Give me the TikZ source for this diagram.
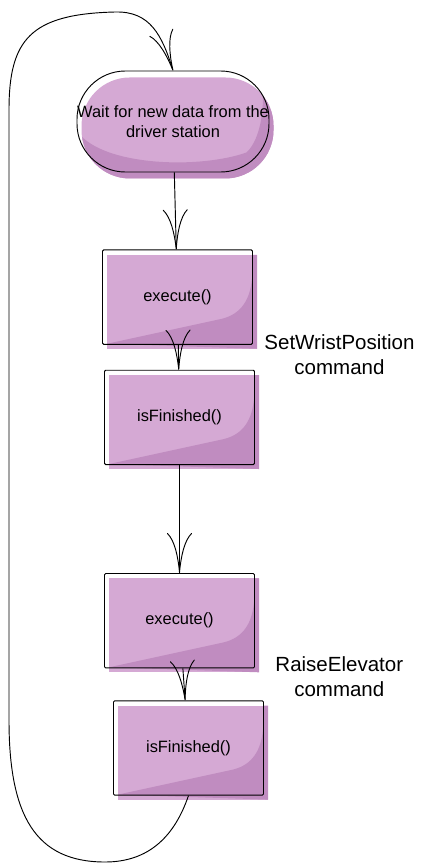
\documentclass[tikz,border=0pt]{standalone}
\usepackage{fontspec}
\setmainfont{Liberation Sans}
\usepackage{tikz}
\usetikzlibrary{arrows.meta,positioning,backgrounds}
\definecolor{cmdfill}{RGB}{213,169,212}
\definecolor{cmdshade}{RGB}{192,140,192}

\begin{document}
\begin{tikzpicture}[
    x=0.03cm, y=0.03cm,
    line width=0.8pt,
    cmdbox/.style={draw, rounded corners=1pt, inner sep=0pt,
        minimum width=4.5cm, minimum height=2.83cm,
        font=\fontsize{14}{16.5}\selectfont},
    waitbox/.style={draw, rounded corners=1.45cm, inner sep=0pt, align=center,
        minimum width=5.76cm, minimum height=3.03cm,
        font=\fontsize{14}{16.5}\selectfont},
    lbl/.style={align=center, inner sep=0pt, font=\fontsize{17.5}{21.5}\selectfont},
    arr/.style={-{Computer Modern Rightarrow[length=1.2cm, width=0.75cm]}, line width=0.8pt}
]
\useasboundingbox (0,0) rectangle (422,-863);

\node[waitbox] (wait) at (173,-121.5) {Wait for new data from the\\driver station};
\node[cmdbox, below=2.31cm of wait, xshift=0.135cm] (exec1) {execute()};
\node[cmdbox, below=0.75cm of exec1, xshift=0.06cm] (fin1) {isFinished()};
\node[cmdbox, below=3.24cm of fin1] (exec2) {execute()};
\node[cmdbox, below=0.96cm of exec2, xshift=0.27cm] (fin2) {isFinished()};

\node[lbl, anchor=west] (wristlbl) at (264,-355) {SetWristPosition\\command};
\node[lbl, anchor=west] (elevlbl) at (275,-677) {RaiseElevator\\command};

% sketchy fills, a little off the outlines
\begin{scope}[on background layer]
  \begin{scope}[shift={(wait.south west)}, xshift=0.15cm, yshift=-0.18cm]
    \fill[cmdfill, rounded corners=1.45cm] (0,0) rectangle (192,101);
    \clip[rounded corners=1.45cm] (0,0) rectangle (192,101);
    \fill[cmdshade] (0,42) .. controls (30,12) and (120,10) .. (165,26)
        .. controls (180,40) and (184,75) .. (180,101) -- (192,101) -- (192,0) -- (0,0) -- cycle;
  \end{scope}
  \foreach \n in {exec1,fin1,exec2,fin2}{
    \begin{scope}[shift={(\n.south west)}, xshift=0.15cm, yshift=-0.12cm]
      \fill[cmdfill] (0,0) rectangle (150,94);
      \fill[cmdshade] (0,5) -- (115,30) .. controls (135,35) and (143,50) .. (145,70)
          -- (145,94) -- (150,94) -- (150,0) -- cycle;
    \end{scope}}
\end{scope}

\coordinate (loopbottom) at (105,-862);
\coordinate (looptop) at (115,-12);

\draw[arr] (wait) -- (exec1);
\draw[arr] (exec1) -- (fin1);
\draw[arr] (fin1) -- (exec2);
\draw[arr] (exec2) -- (fin2);
% back to the top after the second command
\draw[arr] (fin2.south) .. controls (175,-835) and (150,-862) .. (loopbottom)
    .. controls (35,-862) and (9,-815) .. (9,-720) -- (9,-110)
    .. controls (9,-40) and (30,-14) .. (looptop)
    .. controls (150,-11) and (162,-35) .. (wait.north);
\end{tikzpicture}
\end{document}
